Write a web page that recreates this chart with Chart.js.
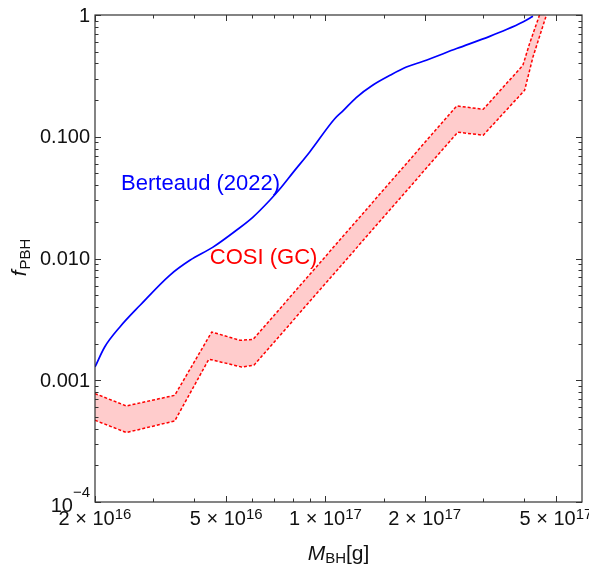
<!DOCTYPE html>
<html><head><meta charset="utf-8">
<script src="https://cdn.jsdelivr.net/npm/chart.js@4.4.0/dist/chart.umd.min.js"></script>
<style>html,body{margin:0;padding:0;background:#fff;}#wrap{width:589px;height:565px;position:relative;}</style>
</head><body><div id="wrap"><canvas id="c" width="589" height="565"></canvas></div>
<script>
// ---- data ----
const berteaudMass = [2.0e16, 2.14e16, 2.38e16, 2.74e16, 3.37e16, 3.88e16, 4.56e16, 5.37e16, 6.03e16, 6.78e16, 7.27e16, 7.98e16, 8.96e16, 1.067e17, 1.13e17, 1.24e17, 1.39e17, 1.57e17, 1.76e17, 1.98e17, 2.50e17, 3.15e17, 3.54e17, 3.97e17, 4.26e17];
const berteaudF    = [1.285e-3, 1.875e-3, 2.74e-3, 4.13e-3, 7.28e-3, 9.66e-3, 0.0124, 0.01706, 0.0219, 0.0301, 0.0372, 0.051, 0.0750, 0.1404, 0.163, 0.210, 0.265, 0.32, 0.374, 0.417, 0.53, 0.668, 0.759, 0.876, 0.976];

const cosiUpperMass = [2.0e16, 2.49e16, 3.49e16, 4.52e16, 5.50e16, 6.03e16, 2.50e17, 3.01e17, 3.97e17, 4.16e17, 4.46e17, 4.63e17];
const cosiUpperF    = [7.77e-4, 6.15e-4, 7.52e-4, 2.49e-3, 2.13e-3, 2.16e-3, 0.179, 0.168, 0.386, 0.582, 1.0, 1.32];
const cosiLowerMass = [2.0e16, 2.49e16, 3.49e16, 4.43e16, 5.57e16, 6.07e16, 2.52e17, 3.01e17, 4.02e17, 4.26e17, 4.68e17, 4.83e17];
const cosiLowerF    = [4.69e-4, 3.72e-4, 4.63e-4, 1.49e-3, 1.285e-3, 1.33e-3, 0.109, 0.103, 0.241, 0.452, 1.0, 1.32];

const xTickValues = [2e16, 5e16, 1e17, 2e17, 5e17];
const xTickMantissa = ['2', '5', '1', '2', '5'];
const xTickExponent = ['16', '16', '17', '17', '17'];
const xMinorValues = [3e16, 4e16, 6e16, 7e16, 8e16, 9e16, 1.5e17, 3e17, 4e17];
const yTickValues = [1, 0.1, 0.01, 0.001, 1e-4];
const yTickLabels = ['1', '0.100', '0.010', '0.001', '10^-4'];
const yMinorMantissas = [2, 3, 4, 5, 6, 7, 8, 9];
const yDecades = [-4, -3, -2, -1];

const labelBerteaud = {text: 'Berteaud (2022)', x: 2.4e16, y: 0.0407, color: '#0000ff'};
const labelCosi = {text: 'COSI (GC)', x: 4.46e16, y: 0.01005, color: '#ff0000'};

const toPts = (xs, ys) => xs.map((v, i) => ({x: v, y: ys[i]}));
const FONT = '"Liberation Sans", Arial, Helvetica, sans-serif';

const framePlugin = {
  id: 'frame',
  afterDraw(chart) {
    const {ctx, chartArea: a, scales: {x, y}} = chart;
    ctx.save();
    // annotations
    ctx.font = '22px ' + FONT;
    ctx.textBaseline = 'middle';
    ctx.textAlign = 'left';
    for (const L of [labelBerteaud, labelCosi]) {
      ctx.fillStyle = L.color;
      ctx.fillText(L.text, x.getPixelForValue(L.x), y.getPixelForValue(L.y));
    }
    // frame
    ctx.strokeStyle = '#333';
    ctx.lineWidth = 1.2;
    ctx.strokeRect(a.left, a.top, a.right - a.left, a.bottom - a.top);
    ctx.lineWidth = 1;
    const tick = (x1, y1, x2, y2) => { ctx.beginPath(); ctx.moveTo(x1, y1); ctx.lineTo(x2, y2); ctx.stroke(); };
    const MAJ = 6, MIN = 3.5;
    for (const v of xTickValues) { const p = Math.round(x.getPixelForValue(v)) + 0.5; tick(p, a.bottom, p, a.bottom - MAJ); tick(p, a.top, p, a.top + MAJ); }
    for (const v of xMinorValues) { const p = Math.round(x.getPixelForValue(v)) + 0.5; tick(p, a.bottom, p, a.bottom - MIN); tick(p, a.top, p, a.top + MIN); }
    for (const v of yTickValues) { const p = Math.round(y.getPixelForValue(v)) + 0.5; tick(a.left, p, a.left + MAJ, p); tick(a.right, p, a.right - MAJ, p); }
    for (const d of yDecades) for (const m of yMinorMantissas) {
      const p = Math.round(y.getPixelForValue(m * Math.pow(10, d))) + 0.5; tick(a.left, p, a.left + MIN, p); tick(a.right, p, a.right - MIN, p);
    }
    // x tick labels
    ctx.fillStyle = '#111';
    ctx.textBaseline = 'alphabetic';
    ctx.textAlign = 'left';
    xTickValues.forEach((v, i) => {
      const main = xTickMantissa[i] + ' \u00d7 10';
      ctx.font = '20px ' + FONT; const w1 = ctx.measureText(main).width;
      ctx.font = '15px ' + FONT; const w2 = ctx.measureText(xTickExponent[i]).width;
      const cx = x.getPixelForValue(v); const x0 = cx - (w1 + w2) / 2;
      ctx.font = '20px ' + FONT; ctx.fillText(main, x0, a.bottom + 23);
      ctx.font = '15px ' + FONT; ctx.fillText(xTickExponent[i], x0 + w1, a.bottom + 17);
    });
    // y tick labels
    ctx.textAlign = 'right';
    yTickValues.forEach((v, i) => {
      const p = y.getPixelForValue(v);
      const t = yTickLabels[i];
      if (t.indexOf('^') >= 0) {
        const [b, e] = t.split('^');
        const es = e.replace('-', '\u2212');
        ctx.font = '15px ' + FONT; ctx.textBaseline = 'alphabetic';
        ctx.fillText(es, a.left - 5, p - 5);
        const we = ctx.measureText(es).width;
        ctx.font = '20px ' + FONT;
        ctx.fillText(b, a.left - 5 - we, p + 10);
      } else {
        ctx.font = '20px ' + FONT; ctx.textBaseline = 'middle';
        ctx.fillText(t, a.left - 5, p + 1);
      }
    });
    // axis titles
    ctx.textAlign = 'left'; ctx.textBaseline = 'alphabetic';
    ctx.font = 'italic 21px ' + FONT; const wM = ctx.measureText('M').width;
    ctx.font = '15px ' + FONT; const wBH = ctx.measureText('BH').width;
    ctx.font = '21px ' + FONT; const wG = ctx.measureText('[g]').width;
    const cxT = (a.left + a.right) / 2; let xs = cxT - (wM + wBH + wG) / 2;
    ctx.font = 'italic 21px ' + FONT; ctx.fillText('M', xs, 560); xs += wM;
    ctx.font = '15px ' + FONT; ctx.fillText('BH', xs, 563); xs += wBH;
    ctx.font = '21px ' + FONT; ctx.fillText('[g]', xs, 560);
    // y title (rotated)
    ctx.save();
    ctx.translate(26, 258); ctx.rotate(-Math.PI / 2);
    ctx.font = 'italic 21px ' + FONT; const wf = ctx.measureText('f').width;
    ctx.font = '15px ' + FONT; const wP = ctx.measureText('PBH').width;
    let ys = -(wf + wP) / 2;
    ctx.font = 'italic 21px ' + FONT; ctx.fillText('f', ys, 0); ys += wf + 1;
    ctx.font = '15px ' + FONT; ctx.fillText('PBH', ys, 4);
    ctx.restore();
    ctx.restore();
  }
};

new Chart(document.getElementById('c'), {
  type: 'line',
  data: {
    datasets: [
      {label: 'Berteaud (2022)', data: toPts(berteaudMass, berteaudF), borderColor: '#0000ff', borderWidth: 1.7, pointRadius: 0, fill: false, cubicInterpolationMode: 'monotone'},
      {label: 'COSI lower', data: toPts(cosiLowerMass, cosiLowerF), borderColor: '#ff0000', borderWidth: 1.5, borderDash: [3, 2], pointRadius: 0, fill: false, tension: 0},
      {label: 'COSI upper', data: toPts(cosiUpperMass, cosiUpperF), borderColor: '#ff0000', borderWidth: 1.5, borderDash: [3, 2], pointRadius: 0, fill: '-1', backgroundColor: 'rgba(255,0,0,0.2)', tension: 0}
    ]
  },
  options: {
    responsive: false, animation: false, devicePixelRatio: 1,
    layout: {padding: {left: 95, top: 15, right: 7, bottom: 63}},
    scales: {
      x: {type: 'logarithmic', min: 2e16, max: 6e17, display: false},
      y: {type: 'logarithmic', min: 1e-4, max: 1, display: false}
    },
    plugins: {legend: {display: false}, tooltip: {enabled: false}}
  },
  plugins: [framePlugin]
});
</script></body></html>
